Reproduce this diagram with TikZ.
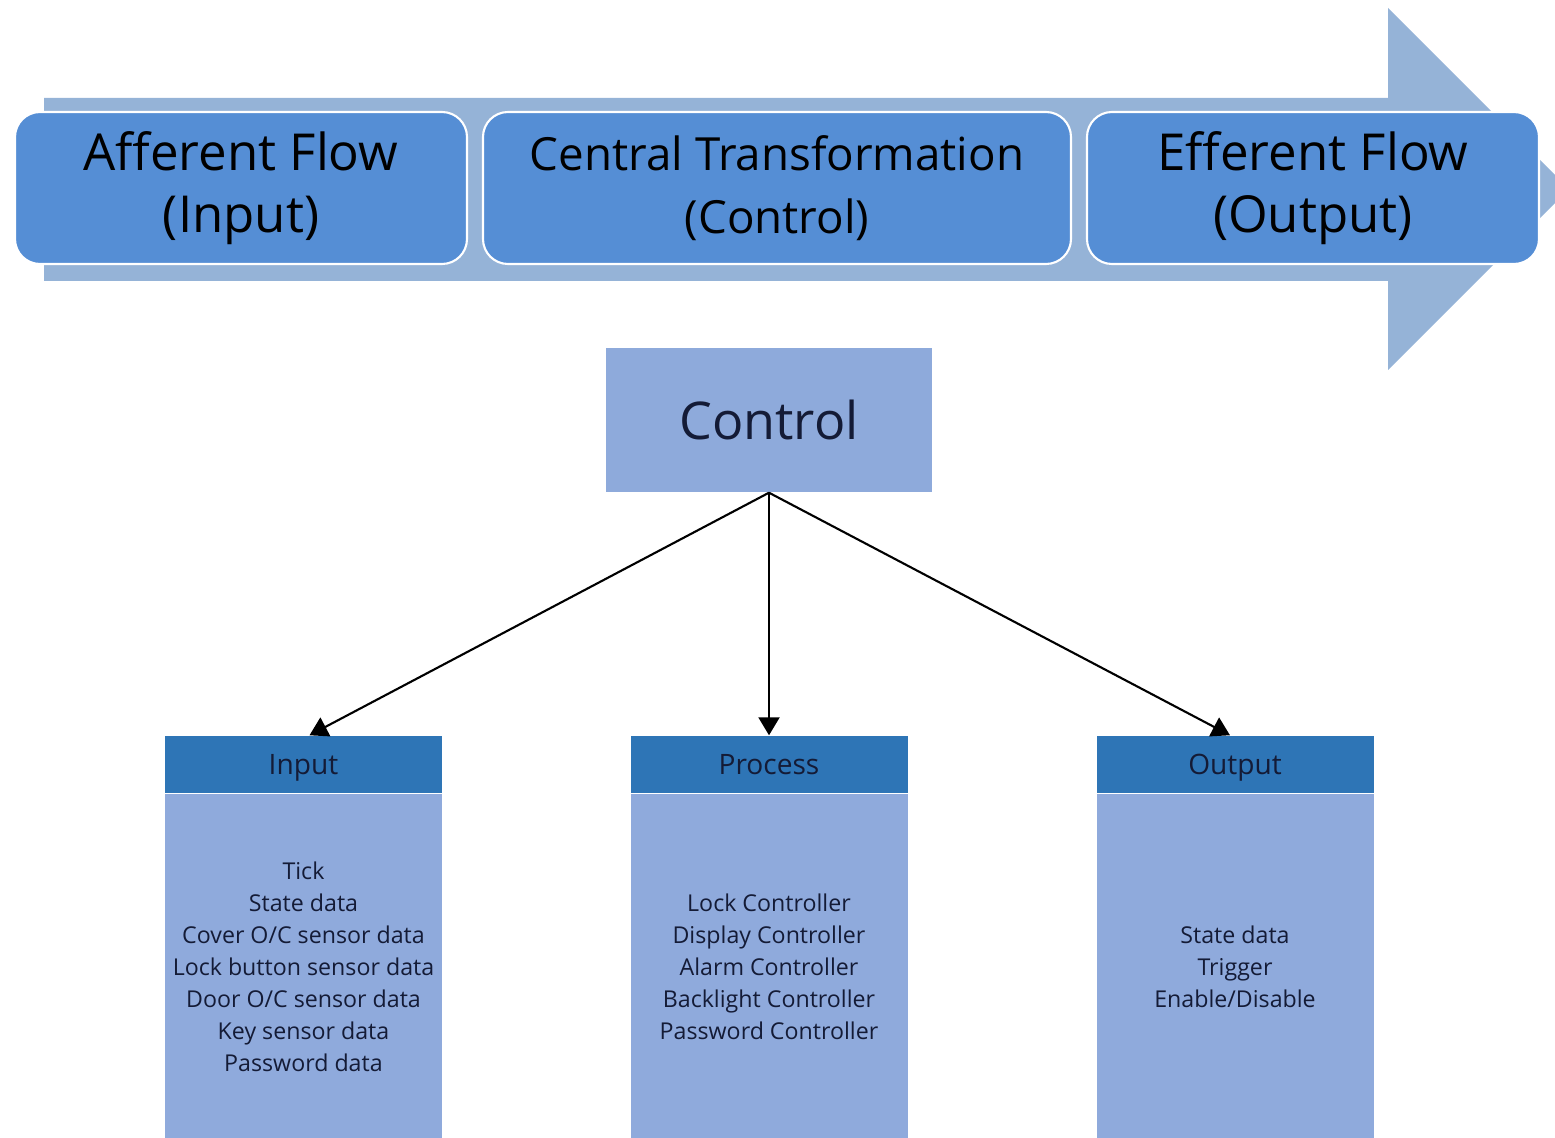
\documentclass[tikz,border=0pt]{standalone}
\usepackage{fontspec}
\setmainfont{Open Sans}
\usetikzlibrary{arrows.meta,positioning}
\definecolor{arrowblue}{HTML}{95B3D7}
\definecolor{flowblue}{HTML}{558ED5}
\definecolor{ctrlblue}{HTML}{8EAADB}
\definecolor{headblue}{HTML}{2E75B6}
\definecolor{bodyblue}{HTML}{8FAADC}
\definecolor{navy}{HTML}{141B36}

\begin{document}
\begin{tikzpicture}[
		flow/.style={rounded corners=2.5mm,fill=flowblue,draw=white,line width=0.6pt,minimum height=1.52cm,align=center,font=\fontsize{14.5}{17.8}\selectfont},
		head/.style={fill=headblue,minimum width=2.77cm,minimum height=0.57cm,inner sep=0pt,text height=1.6ex,text depth=0.5ex,text=navy,font=\fontsize{8}{9.6}\selectfont},
		body/.style={fill=bodyblue,minimum width=2.77cm,minimum height=3.45cm,inner sep=0pt,align=center,text=navy,font=\fontsize{6.6}{9.1}\selectfont},
		link/.style={line width=0.6pt,-{Triangle[length=1.8mm,width=2.1mm]}}]
		\useasboundingbox (0,0) rectangle (15.55,-11.38);
		\clip (0,0) rectangle (15.55,-11.38);
		
		% big arrow behind the three phases
		\fill[arrowblue] (0.44,-0.98) -- (13.88,-0.98) -- (13.88,-0.08) -- (15.69,-1.89) -- (13.88,-3.70) -- (13.88,-2.81) -- (0.44,-2.81) -- cycle;
		
		\node[flow,minimum width=4.52cm] (aff) at (2.41,-1.88) {Afferent Flow\\(Input)};
		\node[flow,minimum width=5.88cm,font=\fontsize{13}{17.8}\selectfont] (cen) at (7.77,-1.88) {Central Transformation\\(Control)};
		\node[flow,minimum width=4.52cm] (eff) at (13.13,-1.88) {Efferent Flow\\(Output)};
		
		\node[fill=ctrlblue,minimum width=3.26cm,minimum height=1.44cm,text=navy,font=\fontsize{14.8}{17.6}\selectfont] (ctrl) at (7.69,-4.20) {Control};
		
		\node[head] (inhead) at (3.035,-7.645) {Input};
		\node[head] (prhead) at (7.69,-7.645) {Process};
		\node[head] (outhead) at (12.35,-7.645) {Output};
		
		\node[body,below=0pt of inhead] (inbody) {Tick\\State data\\Cover O/C sensor data\\Lock button sensor data\\Door O/C sensor data\\Key sensor data\\Password data};
		\node[body,below=0pt of prhead] (prbody) {Lock Controller\\Display Controller\\Alarm Controller\\Backlight Controller\\Password Controller};
		\node[body,below=0pt of outhead] (outbody) {State data\\Trigger\\Enable/Disable};
		
		\draw[link] (ctrl.south) -- ([xshift=0.6mm]inhead.north);
		\draw[link] (ctrl.south) -- (prhead.north);
		\draw[link] (ctrl.south) -- ([xshift=-0.5mm]outhead.north);
	\end{tikzpicture}
\end{document}
